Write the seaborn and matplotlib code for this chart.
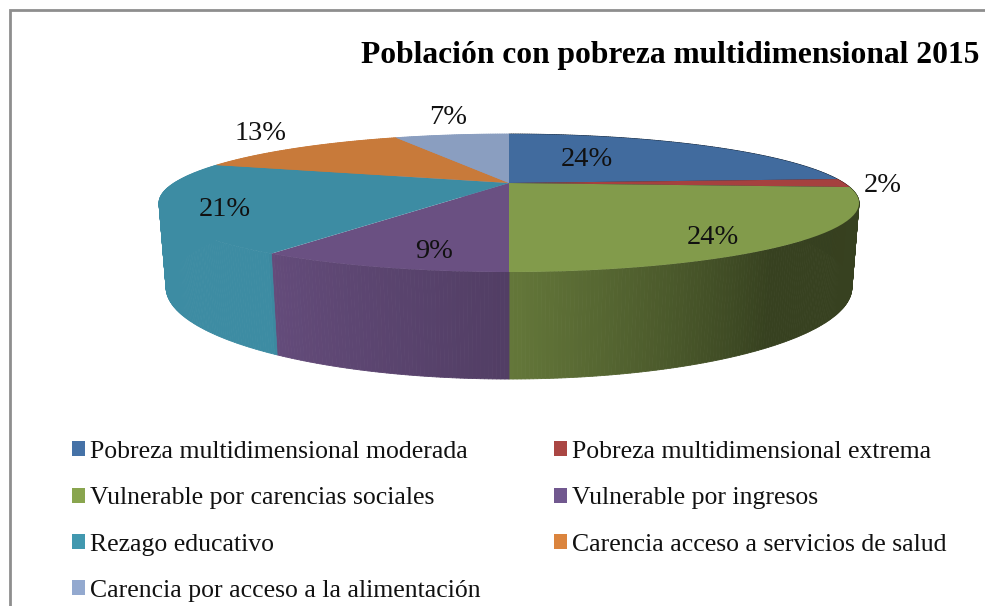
import numpy as np
import matplotlib
matplotlib.use("Agg")
import matplotlib.pyplot as plt
import seaborn as sns
from matplotlib.collections import PolyCollection
from matplotlib.patches import Patch, Rectangle
from matplotlib.path import Path
from matplotlib.transforms import Transform

categories = ["Pobreza multidimensional moderada", "Pobreza multidimensional extrema",
              "Vulnerable por carencias sociales", "Vulnerable por ingresos",
              "Rezago educativo", "Carencia acceso a servicios de salud",
              "Carencia por acceso a la alimentación"]
values = [24, 2, 24, 9, 21, 13, 7]
title = "Población con pobreza multidimensional 2015"

face_colors = ["#416B9E", "#A5413F", "#829B4B", "#6A5082", "#3D8CA3", "#C87A3A", "#8A9EC0"]
legend_colors = ["#4572A7", "#AA4643", "#89A54E", "#71588F", "#4198AF", "#DB843D", "#93A9CF"]

W, H = 985, 606
CX, CY = 509, 183       # screen position of the pie's apex
A, B, K = 335.0, 63.2, 0.29   # perspective of the top face
M, D = 0.019, 79.7      # perspective of the base

sns.set_theme(style="white")
plt.rcParams["font.family"] = ["Liberation Serif", "DejaVu Serif"]


def project(x, y, z=0.0):
    """Unit-disc coordinates to axes coordinates; z=0 top face, z=1 base."""
    w = 1 + K * y + M * z
    return A * x / w, (B * y - D * z) / w


class Perspective(Transform):
    input_dims = output_dims = 2
    is_separable = False
    has_inverse = False

    def transform_non_affine(self, values):
        v = np.asarray(values, dtype=float)
        X, Y = project(v[:, 0], v[:, 1])
        return np.column_stack([X, Y])

    def transform_path_non_affine(self, path):
        pts = []
        for bez, code in path.iter_bezier():
            if code == Path.CLOSEPOLY or code == Path.LINETO:
                pts.extend([bez(0.0), bez(1.0)])
            else:
                pts.extend(bez(np.linspace(0, 1, 20)))
        return Path(self.transform_non_affine(np.array(pts)))


fig = plt.figure(figsize=(W / 100, H / 100), dpi=100, facecolor="white")
ax = fig.add_axes([0, 0, 1, 1])
palette = sns.color_palette(face_colors)

wedges, _ = ax.pie(values, colors=palette, startangle=90, counterclock=False,
                   radius=1.0, wedgeprops=dict(linewidth=0))
ax.set_aspect("auto")
ax.set_xlim(-CX, W - CX)
ax.set_ylim(CY - H, CY)
ax.axis("off")

persp = Perspective()
for wedge in wedges:
    wedge.set_transform(persp + ax.transData)
    wedge.set_zorder(3)
    wedge.set_clip_on(False)

# side wall, shaded along the rim
shade_at = [100, 143, 180, 212, 213, 360]
shade_val = [0.42, 0.42, 0.77, 0.94, 1.0, 1.0]
edges = np.concatenate([[0], np.cumsum(values)]) / np.sum(values) * 360
quads, quad_colors = [], []
for start, end, col in zip(edges[:-1], edges[1:], palette):
    steps = max(2, int((end - start) / 0.5) + 1)
    t = np.linspace(start, end, steps)
    for t0, t1 in zip(t[:-1], t[1:]):
        r0, r1 = np.radians([t0, t1])
        x0, y0, x1, y1 = np.sin(r0), np.cos(r0), np.sin(r1), np.cos(r1)
        quads.append([project(x0, y0), project(x1, y1), project(x1, y1, 1), project(x0, y0, 1)])
        s = np.interp((t0 + t1) / 2, shade_at, shade_val)
        quad_colors.append(tuple(np.array(col) * s))
ax.add_collection(PolyCollection(quads, facecolors=quad_colors, edgecolors=quad_colors,
                                 linewidths=0.6, zorder=2))

# percentage labels
label_xy = [(587, 160), (883, 186), (713, 238), (434, 252), (225, 210), (261, 134), (448, 118)]
for v, (px, py) in zip(values, label_xy):
    ax.text(px - CX, CY - py, f"{v}%", ha="center", va="center", fontsize=20.5,
            color="#111111", zorder=5)

ax.text(361 - CX, CY - 56, title, ha="left", va="center", fontsize=22.7, fontweight="bold",
        color="#000000", zorder=5, clip_on=False)

# frame, running off the canvas as in the original
fig.add_artist(Rectangle((10 / W, -0.5), 1.5, 0.5 + (H - 10) / H, transform=fig.transFigure,
                         fill=False, edgecolor="#8E8E8E", linewidth=2.0))

order = [0, 2, 4, 6, 1, 3, 5]
handles = [Patch(facecolor=legend_colors[i], edgecolor="none") for i in order]
labels = [categories[i] for i in order]
leg = fig.legend(handles, labels, ncols=2, loc="upper left",
                 bbox_to_anchor=(72 / W, 1 - 441 / H), bbox_transform=fig.transFigure,
                 frameon=False, fontsize=18.5, handlelength=0.51, handleheight=0.51,
                 handletextpad=0.2, labelspacing=0.945, columnspacing=2.84,
                 borderpad=0, borderaxespad=0, labelcolor="#111111")

fig.savefig("out.png", dpi=100, facecolor="white")
